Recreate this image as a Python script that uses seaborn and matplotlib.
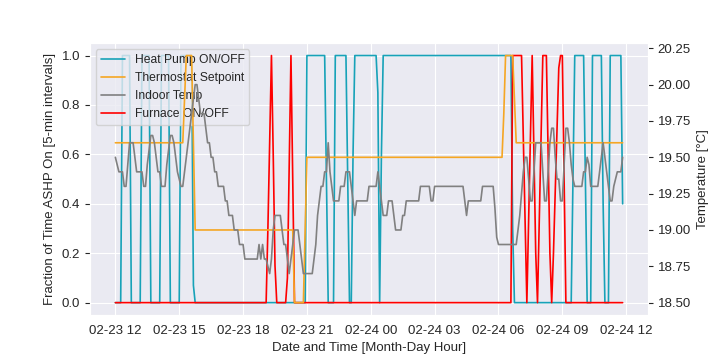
import numpy as np
import pandas as pd
import matplotlib
matplotlib.use('Agg')
import matplotlib.pyplot as plt
import seaborn as sns

# 5-min samples, 02-23 12:00 -> 02-24 11:50
start_time = '2023-02-23 12:00'
n_points = 287

# Heat pump fraction on (run-length: level, number of 5-min samples)
hp_levels = [0, 1, 0, 1, 0, 1, 0, 1, 0.07, 0, 1, 0.5, 0, 1, 0.5, 0, 0.6, 1, 0.85, 0,
             0.6, 1, 0.3, 0, 0.5, 1, 0.5, 0, 1, 0.4, 0, 1, 0.4]
hp_counts = [4, 5, 6, 5, 6, 5, 6, 7, 1, 63, 11, 1, 4, 7, 1, 2, 1, 13, 1, 1,
             1, 73, 1, 33, 1, 6, 1, 3, 6, 1, 3, 7, 1]

# Furnace fraction on
furnace_levels = [0, 0.3, 0.65, 1, 0.6, 0.15, 0, 0.1, 0.55, 1, 0.5, 0, 1,
                  0.67, 0.33, 0, 0.33, 0.67, 1, 0.6, 0.2, 0, 0.33, 0.67, 1,
                  0.6, 0.2, 0, 0.2, 0.45, 0.7, 0.95, 1, 0.5, 0]
furnace_counts = [86, 1, 1, 1, 1, 1, 6, 1, 1, 1, 1, 123, 6,
                  1, 1, 1, 1, 1, 1, 1, 1, 1, 1, 1, 3,
                  1, 1, 1, 1, 1, 1, 1, 2, 1, 33]

# Thermostat setpoint [°C]
setpoint_levels = [19.6, 19.9, 20.2, 19.6, 19.0, 18.5, 19.0, 19.5, 19.8, 20.2, 19.9, 19.6]
setpoint_counts = [39, 1, 4, 1, 56, 6, 1, 111, 1, 5, 1, 61]

# Indoor temperature [°C]
indoor_levels = [19.5, 19.45, 19.4, 19.3, 19.45, 19.6, 19.5, 19.4, 19.3, 19.45,
                 19.55, 19.65, 19.6, 19.5, 19.4, 19.3, 19.45, 19.55, 19.65, 19.6,
                 19.5, 19.4, 19.35, 19.3, 19.4, 19.5, 19.6, 19.7, 19.8, 19.9,
                 20.0, 19.9, 19.8, 19.7, 19.6, 19.5, 19.4, 19.3, 19.2, 19.1,
                 19.0, 18.9, 18.8, 18.9, 18.8, 18.9, 18.8, 18.75, 18.7, 18.8,
                 19.0, 19.1, 19.0, 18.9, 18.8, 18.7, 18.8, 18.9, 19.0, 18.9,
                 18.8, 18.7, 18.8, 18.9, 19.1, 19.2, 19.3, 19.4, 19.6, 19.4,
                 19.3, 19.2, 19.3, 19.4, 19.3, 19.2, 19.1, 19.2, 19.3, 19.4,
                 19.3, 19.2, 19.1, 19.2, 19.1, 19.0, 19.1, 19.2, 19.3, 19.2,
                 19.3, 19.2, 19.1, 19.2, 19.3, 19.15, 18.95, 18.9, 19.0, 19.1,
                 19.25, 19.4, 19.5, 19.35, 19.2, 19.4, 19.6, 19.4, 19.2, 19.4,
                 19.6, 19.7, 19.5, 19.35, 19.2, 19.45, 19.7, 19.6, 19.45, 19.35,
                 19.3, 19.4, 19.5, 19.45, 19.3, 19.4, 19.5, 19.6, 19.5, 19.4,
                 19.3, 19.2, 19.3, 19.35, 19.4, 19.5]
indoor_counts = [1, 1, 3, 2, 1, 3, 1, 4, 2, 1,
                 1, 2, 1, 1, 2, 3, 1, 1, 2, 1,
                 1, 1, 1, 2, 1, 1, 1, 1, 1, 1,
                 2, 1, 3, 1, 2, 2, 2, 4, 2, 3,
                 3, 3, 8, 1, 1, 1, 2, 1, 1, 1,
                 1, 4, 1, 2, 1, 1, 1, 1, 3, 1,
                 1, 6, 1, 1, 1, 1, 2, 2, 1, 1,
                 1, 4, 3, 3, 1, 1, 1, 7, 5, 1,
                 1, 1, 3, 3, 1, 4, 2, 8, 6, 2,
                 17, 1, 1, 8, 7, 1, 1, 11, 1, 1,
                 1, 1, 2, 1, 2, 1, 4, 1, 2, 1,
                 1, 2, 1, 2, 2, 1, 2, 1, 1, 1,
                 5, 2, 1, 1, 5, 1, 1, 1, 1, 1,
                 1, 2, 1, 1, 3, 1]

times = pd.date_range(start_time, periods=n_points, freq='5min')
heat_pump = np.repeat(hp_levels, hp_counts)
furnace = np.repeat(furnace_levels, furnace_counts)
setpoint = np.repeat(setpoint_levels, setpoint_counts)
indoor = np.repeat(indoor_levels, indoor_counts)
for name, arr in [('hp', heat_pump), ('furnace', furnace), ('setpoint', setpoint), ('indoor', indoor)]:
    assert len(arr) == n_points, (name, len(arr))

sns.set_style('darkgrid')
plt.rcParams['font.family'] = ['Liberation Sans', 'DejaVu Sans']
plt.rcParams['font.size'] = 9.5
plt.rcParams['legend.fontsize'] = 8.7

fig, ax1 = plt.subplots(figsize=(7.2, 3.6), dpi=100)
fig.subplots_adjust(left=0.125, right=0.9, top=0.88, bottom=0.125)

lw = 1.2
sns.lineplot(x=times, y=heat_pump, ax=ax1, color='#17a2b8', lw=lw, label='Heat Pump ON/OFF')
sns.lineplot(x=times, y=furnace, ax=ax1, color='red', lw=lw, label='Furnace ON/OFF')
ax1.set_xlabel('Date and Time [Month-Day Hour]')
ax1.set_ylabel('Fraction of Time ASHP On [5-min intervals]')

ax2 = ax1.twinx()
sns.lineplot(x=times, y=setpoint, ax=ax2, color='#f5a623', lw=lw, label='Thermostat Setpoint')
sns.lineplot(x=times, y=indoor, ax=ax2, color='grey', lw=lw, label='Indoor Temp')
ax2.set_ylabel('Temperature [°C]')
ax2.grid(False)

# one legend for both axes
h1, l1 = ax1.get_legend_handles_labels()
h2, l2 = ax2.get_legend_handles_labels()
ax2.get_legend().remove()
ax1.legend([h1[0], h2[0], h2[1], h1[1]], [l1[0], l2[0], l2[1], l1[1]], loc='upper left')

fig.savefig('out.png', dpi=100)
